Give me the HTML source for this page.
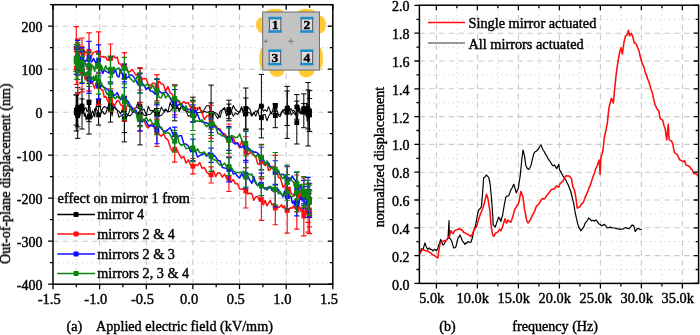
<!DOCTYPE html>
<html><head><meta charset="utf-8"><title>fig</title>
<style>
html,body{margin:0;padding:0;background:#fff;}
body{width:700px;height:335px;overflow:hidden;font-family:"Liberation Serif",serif;}
svg{display:block}
.t text, text{font-family:"Liberation Serif",serif;font-size:14px;fill:#000;stroke:#000;stroke-width:0.42px;}
.gmaj{stroke:#c9c9c9;stroke-width:1.1;stroke-dasharray:5.5 4.3;fill:none}
.gmin{stroke:#d2d2d2;stroke-width:1;stroke-dasharray:1.2 3.6;fill:none}
</style></head><body>
<svg width="700" height="335" viewBox="0 0 700 335">
<defs><filter id="soft" x="0" y="0" width="100%" height="100%" filterUnits="userSpaceOnUse"><feGaussianBlur stdDeviation="0.55"/></filter></defs>
<rect width="700" height="335" fill="#fff"/>
<g filter="url(#soft)">
<rect width="700" height="335" fill="#fff"/>
<g><line x1="99.6" y1="4.7" x2="99.6" y2="284.2" class="gmaj"/><line x1="146.3" y1="4.7" x2="146.3" y2="284.2" class="gmaj"/><line x1="192.9" y1="4.7" x2="192.9" y2="284.2" class="gmaj"/><line x1="239.5" y1="4.7" x2="239.5" y2="284.2" class="gmaj"/><line x1="286.2" y1="4.7" x2="286.2" y2="284.2" class="gmaj"/><line x1="76.3" y1="4.7" x2="76.3" y2="284.2" class="gmin"/><line x1="122.9" y1="4.7" x2="122.9" y2="284.2" class="gmin"/><line x1="169.6" y1="4.7" x2="169.6" y2="284.2" class="gmin"/><line x1="216.2" y1="4.7" x2="216.2" y2="284.2" class="gmin"/><line x1="262.9" y1="4.7" x2="262.9" y2="284.2" class="gmin"/><line x1="309.5" y1="4.7" x2="309.5" y2="284.2" class="gmin"/><line x1="53.0" y1="26.2" x2="332.8" y2="26.2" class="gmaj"/><line x1="53.0" y1="69.2" x2="332.8" y2="69.2" class="gmaj"/><line x1="53.0" y1="112.2" x2="332.8" y2="112.2" class="gmaj"/><line x1="53.0" y1="155.2" x2="332.8" y2="155.2" class="gmaj"/><line x1="53.0" y1="198.2" x2="332.8" y2="198.2" class="gmaj"/><line x1="53.0" y1="241.2" x2="332.8" y2="241.2" class="gmaj"/><line x1="53.0" y1="47.7" x2="332.8" y2="47.7" class="gmin"/><line x1="53.0" y1="90.7" x2="332.8" y2="90.7" class="gmin"/><line x1="53.0" y1="133.7" x2="332.8" y2="133.7" class="gmin"/><line x1="53.0" y1="176.7" x2="332.8" y2="176.7" class="gmin"/><line x1="53.0" y1="219.7" x2="332.8" y2="219.7" class="gmin"/><line x1="53.0" y1="262.7" x2="332.8" y2="262.7" class="gmin"/></g>
<g><path d="M76.3 113.0 L76.3 112.8 L76.4 115.2 L76.5 116.7 L76.7 114.5 L76.9 119.7 L77.1 120.8 L77.4 114.6 L77.7 115.6 L78.1 114.5 L78.6 112.4 L79.0 109.6 L79.5 110.6 L80.1 115.5 L80.7 104.6 L81.3 106.1 L82.0 106.0 L82.7 112.9 L83.5 109.8 L84.3 116.2 L85.2 113.4 L86.1 119.9 L87.0 116.0 L88.0 113.8 L89.0 117.1 L90.1 113.7 L91.2 118.7 L92.3 117.1 L93.5 115.0 L94.7 108.8 L96.0 108.7 L97.3 103.5 L98.6 101.3 L99.9 105.1 L101.3 112.0 L102.8 108.1 L104.2 106.6 L105.7 107.3 L107.3 108.3 L108.9 105.3 L110.5 105.3 L112.1 115.9 L113.8 104.1 L115.5 107.5 L117.2 110.6 L118.9 117.2 L120.7 115.9 L122.5 115.5 L124.4 119.4 L126.2 113.4 L128.1 115.1 L130.0 108.8 L132.0 109.1 L133.9 110.9 L135.9 113.2 L137.9 113.2 L140.0 113.9 L142.0 112.3 L144.1 115.3 L146.2 115.7 L148.3 114.4 L150.4 114.3 L152.5 111.8 L154.7 109.2 L156.9 113.8 L159.1 114.1 L161.3 107.1 L163.5 111.1 L165.7 109.0 L167.9 111.8 L170.2 111.2 L172.4 108.4 L174.7 103.6 L176.9 105.0 L179.2 111.7 L181.5 106.2 L183.8 107.0 L186.0 110.5 L188.3 116.3 L190.6 115.5 L192.9 108.7 L195.2 117.8 L197.5 112.5 L199.8 112.2 L202.0 111.8 L204.3 109.5 L206.6 105.8 L208.9 105.7 L211.1 113.3 L213.4 111.6 L215.6 115.2 L217.9 118.6 L220.1 110.9 L222.3 110.2 L224.5 108.6 L226.7 116.1 L228.9 109.5 L231.1 110.4 L233.3 116.3 L235.4 112.9 L237.5 114.6 L239.6 111.4 L241.7 106.7 L243.8 115.9 L245.8 113.9 L247.9 107.4 L249.9 109.0 L251.9 115.0 L253.8 113.8 L255.8 110.9 L257.7 111.8 L259.6 107.0 L261.4 106.1 L263.3 111.1 L265.1 109.8 L266.9 111.4 L268.6 106.6 L270.3 111.4 L272.0 114.1 L273.7 113.9 L275.3 106.1 L276.9 110.1 L278.5 115.7 L280.1 116.6 L281.6 113.2 L283.0 109.8 L284.5 113.7 L285.9 113.6 L287.2 112.4 L288.5 107.8 L289.8 108.9 L291.1 115.1 L292.3 113.5 L293.5 112.3 L294.6 114.2 L295.7 114.5 L296.8 106.9 L297.8 111.7 L298.8 109.9 L299.7 108.1 L300.6 113.9 L301.5 113.3 L302.3 114.1 L303.1 111.2 L303.8 108.5 L304.5 110.3 L305.1 115.3 L305.7 107.3 L306.3 113.0 L306.8 116.2 L307.2 121.2 L307.7 116.7 L308.1 114.3 L308.4 112.8 L308.7 113.1 L308.9 118.3 L309.1 112.6 L309.3 117.0 L309.4 112.0 L309.5 109.3 L309.5 111.0" fill="none" stroke="#000000" stroke-width="1.05" stroke-linejoin="round"/><path d="M76.3 110.0 L76.3 113.0 L76.4 109.8 L76.5 111.5 L76.7 114.8 L76.9 109.2 L77.1 109.0 L77.4 107.4 L77.7 107.2 L78.1 107.6 L78.6 105.8 L79.0 111.2 L79.5 110.6 L80.1 112.1 L80.7 112.1 L81.3 109.2 L82.0 109.0 L82.7 106.4 L83.5 107.8 L84.3 110.1 L85.2 108.3 L86.1 107.8 L87.0 111.6 L88.0 110.8 L89.0 102.6 L90.1 108.4 L91.2 116.9 L92.3 110.8 L93.5 112.8 L94.7 116.9 L96.0 106.9 L97.3 111.5 L98.6 114.8 L99.9 116.2 L101.3 112.8 L102.8 111.3 L104.2 114.3 L105.7 113.5 L107.3 108.5 L108.9 109.0 L110.5 109.8 L112.1 112.9 L113.8 106.3 L115.5 109.1 L117.2 109.8 L118.9 111.1 L120.7 113.9 L122.5 108.3 L124.4 110.2 L126.2 117.3 L128.1 115.3 L130.0 115.9 L132.0 113.8 L133.9 108.5 L135.9 108.0 L137.9 102.9 L140.0 106.6 L142.0 110.6 L144.1 109.0 L146.2 115.3 L148.3 106.3 L150.4 110.7 L152.5 110.5 L154.7 112.5 L156.9 114.2 L159.1 116.1 L161.3 115.3 L163.5 113.0 L165.7 109.9 L167.9 112.1 L170.2 102.4 L172.4 107.8 L174.7 102.8 L176.9 107.5 L179.2 109.0 L181.5 106.5 L183.8 110.3 L186.0 111.0 L188.3 111.9 L190.6 112.9 L192.9 109.6 L195.2 112.2 L197.5 109.6 L199.8 107.1 L202.0 113.5 L204.3 111.2 L206.6 112.3 L208.9 111.9 L211.1 115.9 L213.4 112.4 L215.6 112.5 L217.9 114.9 L220.1 117.4 L222.3 109.4 L224.5 107.6 L226.7 111.4 L228.9 112.5 L231.1 112.1 L233.3 105.5 L235.4 109.5 L237.5 111.4 L239.6 112.3 L241.7 108.2 L243.8 111.6 L245.8 108.5 L247.9 112.6 L249.9 113.0 L251.9 116.3 L253.8 112.3 L255.8 116.2 L257.7 110.4 L259.6 116.9 L261.4 117.7 L263.3 114.6 L265.1 114.5 L266.9 120.7 L268.6 116.5 L270.3 113.5 L272.0 112.3 L273.7 106.9 L275.3 115.6 L276.9 113.1 L278.5 114.1 L280.1 115.1 L281.6 111.8 L283.0 110.0 L284.5 110.1 L285.9 106.5 L287.2 108.3 L288.5 105.6 L289.8 109.7 L291.1 108.6 L292.3 111.4 L293.5 110.2 L294.6 111.3 L295.7 114.1 L296.8 122.6 L297.8 115.2 L298.8 105.5 L299.7 112.9 L300.6 113.1 L301.5 112.6 L302.3 107.7 L303.1 109.9 L303.8 110.8 L304.5 112.9 L305.1 110.3 L305.7 110.3 L306.3 106.3 L306.8 103.0 L307.2 104.0 L307.7 109.2 L308.1 109.5 L308.4 112.1 L308.7 106.0 L308.9 105.9 L309.1 108.3 L309.3 111.4 L309.4 116.3 L309.5 120.5 L309.5 115.0" fill="none" stroke="#000000" stroke-width="1.05" stroke-linejoin="round"/><path d="M76.3 95.0V131.0M73.6 95.0h5.4M73.6 131.0h5.4M77.7 92.8V138.3M75.0 92.8h5.4M75.0 138.3h5.4M82.0 98.9V113.1M79.3 98.9h5.4M79.3 113.1h5.4M89.0 100.2V134.1M86.3 100.2h5.4M86.3 134.1h5.4M98.6 98.9V106.5M95.9 98.9h5.4M95.9 106.5h5.4M110.5 106.2V110.5M107.8 106.2h5.4M107.8 110.5h5.4M124.4 106.2V132.6M121.7 106.2h5.4M121.7 132.6h5.4M140.0 102.3V125.4M137.3 102.3h5.4M137.3 125.4h5.4M156.9 104.0V123.5M154.2 104.0h5.4M154.2 123.5h5.4M174.7 107.9V108.7M172.0 107.9h5.4M172.0 108.7h5.4M192.9 100.2V117.3M190.2 100.2h5.4M190.2 117.3h5.4M211.1 85.1V141.4M208.4 85.1h5.4M208.4 141.4h5.4M228.9 100.2V118.7M226.2 100.2h5.4M226.2 118.7h5.4M245.8 98.0V129.7M243.1 98.0h5.4M243.1 129.7h5.4M261.4 74.4V137.9M258.7 74.4h5.4M258.7 137.9h5.4M275.3 104.9V111.3M272.6 104.9h5.4M272.6 111.3h5.4M287.2 86.4V138.4M284.5 86.4h5.4M284.5 138.4h5.4M296.8 94.6V119.2M294.1 94.6h5.4M294.1 119.2h5.4M303.8 103.6V113.7M301.1 103.6h5.4M301.1 113.7h5.4M308.1 82.5V146.0M305.4 82.5h5.4M305.4 146.0h5.4M309.5 90.7V131.3M306.8 90.7h5.4M306.8 131.3h5.4M76.3 94.8V125.1M73.6 94.8h5.4M73.6 125.1h5.4M77.7 87.6V126.8M75.0 87.6h5.4M75.0 126.8h5.4M82.0 89.1V129.0M79.3 89.1h5.4M79.3 129.0h5.4M89.0 83.6V121.7M86.3 83.6h5.4M86.3 121.7h5.4M98.6 104.6V125.1M95.9 104.6h5.4M95.9 125.1h5.4M110.5 97.5V122.1M107.8 97.5h5.4M107.8 122.1h5.4M124.4 78.5V141.9M121.7 78.5h5.4M121.7 141.9h5.4M140.0 68.2V144.9M137.3 68.2h5.4M137.3 144.9h5.4M156.9 108.5V119.9M154.2 108.5h5.4M154.2 119.9h5.4M174.7 84.9V120.8M172.0 84.9h5.4M172.0 120.8h5.4M192.9 97.2V122.1M190.2 97.2h5.4M190.2 122.1h5.4M211.1 102.9V129.0M208.4 102.9h5.4M208.4 129.0h5.4M228.9 104.1V120.8M226.2 104.1h5.4M226.2 120.8h5.4M245.8 88.0V129.0M243.1 88.0h5.4M243.1 129.0h5.4M261.4 106.4V129.0M258.7 106.4h5.4M258.7 129.0h5.4M275.3 103.5V127.7M272.6 103.5h5.4M272.6 127.7h5.4M287.2 91.0V125.5M284.5 91.0h5.4M284.5 125.5h5.4M296.8 101.1V144.0M294.1 101.1h5.4M294.1 144.0h5.4M303.8 93.9V127.7M301.1 93.9h5.4M301.1 127.7h5.4M308.1 90.0V129.0M305.4 90.0h5.4M305.4 129.0h5.4M309.5 98.5V131.6M306.8 98.5h5.4M306.8 131.6h5.4" fill="none" stroke="#000000" stroke-width="1.0"/><g fill="#000000"><rect x="73.9" y="110.6" width="4.8" height="4.8"/><rect x="75.3" y="113.2" width="4.8" height="4.8"/><rect x="79.6" y="103.6" width="4.8" height="4.8"/><rect x="86.6" y="114.7" width="4.8" height="4.8"/><rect x="96.2" y="98.9" width="4.8" height="4.8"/><rect x="108.1" y="102.9" width="4.8" height="4.8"/><rect x="122.0" y="117.0" width="4.8" height="4.8"/><rect x="137.6" y="111.5" width="4.8" height="4.8"/><rect x="154.5" y="111.4" width="4.8" height="4.8"/><rect x="172.3" y="101.2" width="4.8" height="4.8"/><rect x="190.5" y="106.3" width="4.8" height="4.8"/><rect x="208.7" y="110.9" width="4.8" height="4.8"/><rect x="226.5" y="107.1" width="4.8" height="4.8"/><rect x="243.4" y="111.5" width="4.8" height="4.8"/><rect x="259.0" y="103.7" width="4.8" height="4.8"/><rect x="272.9" y="103.7" width="4.8" height="4.8"/><rect x="284.8" y="110.0" width="4.8" height="4.8"/><rect x="294.4" y="104.5" width="4.8" height="4.8"/><rect x="301.4" y="106.1" width="4.8" height="4.8"/><rect x="305.7" y="111.9" width="4.8" height="4.8"/><rect x="307.1" y="108.6" width="4.8" height="4.8"/><rect x="73.9" y="107.6" width="4.8" height="4.8"/><rect x="75.3" y="104.8" width="4.8" height="4.8"/><rect x="79.6" y="106.6" width="4.8" height="4.8"/><rect x="86.6" y="100.2" width="4.8" height="4.8"/><rect x="96.2" y="112.4" width="4.8" height="4.8"/><rect x="108.1" y="107.4" width="4.8" height="4.8"/><rect x="122.0" y="107.8" width="4.8" height="4.8"/><rect x="137.6" y="104.2" width="4.8" height="4.8"/><rect x="154.5" y="111.8" width="4.8" height="4.8"/><rect x="172.3" y="100.4" width="4.8" height="4.8"/><rect x="190.5" y="107.2" width="4.8" height="4.8"/><rect x="208.7" y="113.5" width="4.8" height="4.8"/><rect x="226.5" y="110.1" width="4.8" height="4.8"/><rect x="243.4" y="106.1" width="4.8" height="4.8"/><rect x="259.0" y="115.3" width="4.8" height="4.8"/><rect x="272.9" y="113.2" width="4.8" height="4.8"/><rect x="284.8" y="105.9" width="4.8" height="4.8"/><rect x="294.4" y="120.2" width="4.8" height="4.8"/><rect x="301.4" y="108.4" width="4.8" height="4.8"/><rect x="305.7" y="107.1" width="4.8" height="4.8"/><rect x="307.1" y="112.6" width="4.8" height="4.8"/></g><path d="M76.3 48.1 L76.3 51.5 L76.4 47.1 L76.5 50.0 L76.7 47.8 L76.9 48.4 L77.1 46.7 L77.4 48.6 L77.7 54.3 L78.1 52.4 L78.6 47.4 L79.0 49.9 L79.5 44.2 L80.1 46.8 L80.7 50.5 L81.3 46.9 L82.0 52.0 L82.7 55.6 L83.5 46.6 L84.3 56.3 L85.2 51.4 L86.1 52.1 L87.0 52.7 L88.0 58.4 L89.0 51.2 L90.1 58.9 L91.2 57.5 L92.3 53.7 L93.5 52.4 L94.7 51.9 L96.0 51.6 L97.3 52.9 L98.6 52.6 L99.9 55.7 L101.3 56.9 L102.8 56.5 L104.2 57.4 L105.7 56.7 L107.3 60.1 L108.9 59.9 L110.5 58.5 L112.1 58.4 L113.8 55.9 L115.5 58.0 L117.2 57.1 L118.9 63.8 L120.7 63.9 L122.5 68.2 L124.4 65.9 L126.2 65.8 L128.1 72.0 L130.0 71.6 L132.0 69.5 L133.9 71.9 L135.9 75.2 L137.9 73.8 L140.0 78.8 L142.0 79.4 L144.1 78.5 L146.2 78.7 L148.3 84.7 L150.4 85.8 L152.5 83.2 L154.7 83.2 L156.9 87.7 L159.1 81.1 L161.3 83.8 L163.5 84.6 L165.7 91.4 L167.9 86.6 L170.2 92.8 L172.4 94.5 L174.7 100.0 L176.9 99.4 L179.2 102.5 L181.5 104.0 L183.8 101.6 L186.0 103.3 L188.3 102.8 L190.6 107.5 L192.9 109.0 L195.2 108.3 L197.5 108.1 L199.8 108.7 L202.0 112.4 L204.3 119.6 L206.6 116.1 L208.9 116.0 L211.1 121.8 L213.4 125.7 L215.6 125.5 L217.9 128.6 L220.1 129.0 L222.3 133.8 L224.5 133.6 L226.7 136.3 L228.9 140.5 L231.1 136.8 L233.3 137.9 L235.4 143.2 L237.5 142.8 L239.6 147.9 L241.7 140.9 L243.8 147.5 L245.8 152.3 L247.9 154.6 L249.9 152.9 L251.9 152.8 L253.8 155.5 L255.8 157.1 L257.7 163.6 L259.6 164.6 L261.4 161.2 L263.3 163.7 L265.1 165.5 L266.9 163.0 L268.6 170.5 L270.3 169.4 L272.0 166.4 L273.7 166.6 L275.3 172.3 L276.9 170.2 L278.5 177.4 L280.1 177.8 L281.6 182.0 L283.0 187.2 L284.5 185.5 L285.9 186.2 L287.2 189.1 L288.5 189.9 L289.8 187.2 L291.1 193.7 L292.3 194.5 L293.5 194.4 L294.6 195.7 L295.7 189.3 L296.8 193.3 L297.8 196.3 L298.8 197.9 L299.7 190.1 L300.6 199.2 L301.5 199.3 L302.3 196.5 L303.1 195.2 L303.8 194.7 L304.5 199.5 L305.1 199.6 L305.7 195.8 L306.3 196.3 L306.8 201.5 L307.2 196.1 L307.7 197.3 L308.1 202.8 L308.4 202.0 L308.7 201.1 L308.9 205.2 L309.1 207.4 L309.3 203.9 L309.4 209.1 L309.5 207.0 L309.5 210.1" fill="none" stroke="#ff0f0f" stroke-width="1.5" stroke-linejoin="round"/><path d="M76.3 68.0 L76.3 66.8 L76.4 65.5 L76.5 64.4 L76.7 64.1 L76.9 66.9 L77.1 60.8 L77.4 69.6 L77.7 69.4 L78.1 69.4 L78.6 69.2 L79.0 69.3 L79.5 71.5 L80.1 70.6 L80.7 71.3 L81.3 69.7 L82.0 71.6 L82.7 74.9 L83.5 75.4 L84.3 73.7 L85.2 80.0 L86.1 74.1 L87.0 79.5 L88.0 82.2 L89.0 79.6 L90.1 81.1 L91.2 82.5 L92.3 81.8 L93.5 85.8 L94.7 88.4 L96.0 82.8 L97.3 84.6 L98.6 86.4 L99.9 87.2 L101.3 89.7 L102.8 89.9 L104.2 97.2 L105.7 96.3 L107.3 100.3 L108.9 102.8 L110.5 100.2 L112.1 101.0 L113.8 106.4 L115.5 103.8 L117.2 100.6 L118.9 100.9 L120.7 105.0 L122.5 105.2 L124.4 108.6 L126.2 100.0 L128.1 106.2 L130.0 106.3 L132.0 107.8 L133.9 108.8 L135.9 111.7 L137.9 115.7 L140.0 116.9 L142.0 120.3 L144.1 120.3 L146.2 125.9 L148.3 127.9 L150.4 124.8 L152.5 124.2 L154.7 129.1 L156.9 132.6 L159.1 134.3 L161.3 136.2 L163.5 133.5 L165.7 138.2 L167.9 139.9 L170.2 147.3 L172.4 151.4 L174.7 149.3 L176.9 149.4 L179.2 154.5 L181.5 158.0 L183.8 156.7 L186.0 163.1 L188.3 159.9 L190.6 164.8 L192.9 166.2 L195.2 164.8 L197.5 165.5 L199.8 162.5 L202.0 168.3 L204.3 167.5 L206.6 172.2 L208.9 174.3 L211.1 174.9 L213.4 170.3 L215.6 176.5 L217.9 172.7 L220.1 173.2 L222.3 177.2 L224.5 174.1 L226.7 178.7 L228.9 178.4 L231.1 182.1 L233.3 179.6 L235.4 183.7 L237.5 183.6 L239.6 189.1 L241.7 189.3 L243.8 188.8 L245.8 191.0 L247.9 194.0 L249.9 193.3 L251.9 193.8 L253.8 200.2 L255.8 196.8 L257.7 196.8 L259.6 201.3 L261.4 199.6 L263.3 204.9 L265.1 200.4 L266.9 205.8 L268.6 203.1 L270.3 200.4 L272.0 205.0 L273.7 203.7 L275.3 208.1 L276.9 206.0 L278.5 207.7 L280.1 206.4 L281.6 204.7 L283.0 208.0 L284.5 205.7 L285.9 209.8 L287.2 210.4 L288.5 209.7 L289.8 208.3 L291.1 207.7 L292.3 208.2 L293.5 206.2 L294.6 208.0 L295.7 209.1 L296.8 205.8 L297.8 211.1 L298.8 208.8 L299.7 206.6 L300.6 210.9 L301.5 209.9 L302.3 213.2 L303.1 206.3 L303.8 216.0 L304.5 214.2 L305.1 213.5 L305.7 206.2 L306.3 209.5 L306.8 211.5 L307.2 214.3 L307.7 210.2 L308.1 211.9 L308.4 212.4 L308.7 215.0 L308.9 215.7 L309.1 212.2 L309.3 212.0 L309.4 212.5 L309.5 213.2 L309.5 215.4" fill="none" stroke="#ff0f0f" stroke-width="1.5" stroke-linejoin="round"/><path d="M76.3 26.6V69.6M73.6 26.6h5.4M73.6 69.6h5.4M77.7 39.1V69.5M75.0 39.1h5.4M75.0 69.5h5.4M82.0 38.0V66.1M79.3 38.0h5.4M79.3 66.1h5.4M89.0 32.9V69.5M86.3 32.9h5.4M86.3 69.5h5.4M98.6 31.8V73.5M95.9 31.8h5.4M95.9 73.5h5.4M110.5 44.0V72.9M107.8 44.0h5.4M107.8 72.9h5.4M124.4 52.6V79.1M121.7 52.6h5.4M121.7 79.1h5.4M140.0 67.6V90.0M137.3 67.6h5.4M137.3 90.0h5.4M156.9 74.6V100.9M154.2 74.6h5.4M154.2 100.9h5.4M174.7 85.1V114.9M172.0 85.1h5.4M172.0 114.9h5.4M192.9 101.9V116.1M190.2 101.9h5.4M190.2 116.1h5.4M211.1 105.2V138.4M208.4 105.2h5.4M208.4 138.4h5.4M228.9 124.0V157.1M226.2 124.0h5.4M226.2 157.1h5.4M245.8 136.7V167.9M243.1 136.7h5.4M243.1 167.9h5.4M261.4 144.3V178.1M258.7 144.3h5.4M258.7 178.1h5.4M275.3 155.3V189.4M272.6 155.3h5.4M272.6 189.4h5.4M287.2 166.7V211.5M284.5 166.7h5.4M284.5 211.5h5.4M296.8 175.0V211.5M294.1 175.0h5.4M294.1 211.5h5.4M303.8 177.8V211.7M301.1 177.8h5.4M301.1 211.7h5.4M308.1 183.2V222.3M305.4 183.2h5.4M305.4 222.3h5.4M309.5 193.3V226.8M306.8 193.3h5.4M306.8 226.8h5.4M76.3 51.6V84.5M73.6 51.6h5.4M73.6 84.5h5.4M77.7 45.0V93.8M75.0 45.0h5.4M75.0 93.8h5.4M82.0 51.4V91.9M79.3 51.4h5.4M79.3 91.9h5.4M89.0 68.1V91.1M86.3 68.1h5.4M86.3 91.1h5.4M98.6 68.2V104.6M95.9 68.2h5.4M95.9 104.6h5.4M110.5 88.8V111.6M107.8 88.8h5.4M107.8 111.6h5.4M124.4 96.3V120.9M121.7 96.3h5.4M121.7 120.9h5.4M140.0 102.7V131.1M137.3 102.7h5.4M137.3 131.1h5.4M156.9 118.7V146.5M154.2 118.7h5.4M154.2 146.5h5.4M174.7 136.6V162.1M172.0 136.6h5.4M172.0 162.1h5.4M192.9 158.5V173.9M190.2 158.5h5.4M190.2 173.9h5.4M211.1 166.9V183.0M208.4 166.9h5.4M208.4 183.0h5.4M228.9 165.4V191.5M226.2 165.4h5.4M226.2 191.5h5.4M245.8 173.9V208.0M243.1 173.9h5.4M243.1 208.0h5.4M261.4 178.8V220.4M258.7 178.8h5.4M258.7 220.4h5.4M275.3 191.4V224.7M272.6 191.4h5.4M272.6 224.7h5.4M287.2 187.7V233.1M284.5 187.7h5.4M284.5 233.1h5.4M296.8 182.4V229.1M294.1 182.4h5.4M294.1 229.1h5.4M303.8 196.2V235.9M301.1 196.2h5.4M301.1 235.9h5.4M308.1 191.7V232.1M305.4 191.7h5.4M305.4 232.1h5.4M309.5 197.3V233.6M306.8 197.3h5.4M306.8 233.6h5.4" fill="none" stroke="#ff0f0f" stroke-width="1.15"/><g fill="#ff0f0f"><rect x="73.9" y="45.7" width="4.8" height="4.8"/><rect x="75.3" y="51.9" width="4.8" height="4.8"/><rect x="79.6" y="49.6" width="4.8" height="4.8"/><rect x="86.6" y="48.8" width="4.8" height="4.8"/><rect x="96.2" y="50.2" width="4.8" height="4.8"/><rect x="108.1" y="56.1" width="4.8" height="4.8"/><rect x="122.0" y="63.5" width="4.8" height="4.8"/><rect x="137.6" y="76.4" width="4.8" height="4.8"/><rect x="154.5" y="85.3" width="4.8" height="4.8"/><rect x="172.3" y="97.6" width="4.8" height="4.8"/><rect x="190.5" y="106.6" width="4.8" height="4.8"/><rect x="208.7" y="119.4" width="4.8" height="4.8"/><rect x="226.5" y="138.1" width="4.8" height="4.8"/><rect x="243.4" y="149.9" width="4.8" height="4.8"/><rect x="259.0" y="158.8" width="4.8" height="4.8"/><rect x="272.9" y="169.9" width="4.8" height="4.8"/><rect x="284.8" y="186.7" width="4.8" height="4.8"/><rect x="294.4" y="190.9" width="4.8" height="4.8"/><rect x="301.4" y="192.3" width="4.8" height="4.8"/><rect x="305.7" y="200.4" width="4.8" height="4.8"/><rect x="307.1" y="207.7" width="4.8" height="4.8"/><rect x="73.9" y="65.6" width="4.8" height="4.8"/><rect x="75.3" y="67.0" width="4.8" height="4.8"/><rect x="79.6" y="69.2" width="4.8" height="4.8"/><rect x="86.6" y="77.2" width="4.8" height="4.8"/><rect x="96.2" y="84.0" width="4.8" height="4.8"/><rect x="108.1" y="97.8" width="4.8" height="4.8"/><rect x="122.0" y="106.2" width="4.8" height="4.8"/><rect x="137.6" y="114.5" width="4.8" height="4.8"/><rect x="154.5" y="130.2" width="4.8" height="4.8"/><rect x="172.3" y="146.9" width="4.8" height="4.8"/><rect x="190.5" y="163.8" width="4.8" height="4.8"/><rect x="208.7" y="172.5" width="4.8" height="4.8"/><rect x="226.5" y="176.0" width="4.8" height="4.8"/><rect x="243.4" y="188.6" width="4.8" height="4.8"/><rect x="259.0" y="197.2" width="4.8" height="4.8"/><rect x="272.9" y="205.7" width="4.8" height="4.8"/><rect x="284.8" y="208.0" width="4.8" height="4.8"/><rect x="294.4" y="203.4" width="4.8" height="4.8"/><rect x="301.4" y="213.6" width="4.8" height="4.8"/><rect x="305.7" y="209.5" width="4.8" height="4.8"/><rect x="307.1" y="213.0" width="4.8" height="4.8"/></g><path d="M76.3 60.5 L76.3 57.3 L76.4 58.2 L76.5 63.2 L76.7 59.1 L76.9 59.3 L77.1 55.8 L77.4 53.6 L77.7 57.7 L78.1 60.6 L78.6 59.6 L79.0 59.7 L79.5 58.2 L80.1 64.2 L80.7 62.8 L81.3 64.0 L82.0 59.3 L82.7 60.4 L83.5 60.6 L84.3 61.6 L85.2 60.3 L86.1 61.1 L87.0 59.8 L88.0 61.7 L89.0 57.6 L90.1 60.1 L91.2 61.9 L92.3 61.2 L93.5 58.4 L94.7 60.8 L96.0 63.4 L97.3 62.8 L98.6 60.0 L99.9 68.3 L101.3 69.5 L102.8 73.6 L104.2 69.9 L105.7 71.2 L107.3 72.1 L108.9 72.9 L110.5 70.4 L112.1 71.3 L113.8 73.1 L115.5 69.4 L117.2 76.0 L118.9 77.0 L120.7 69.2 L122.5 74.8 L124.4 75.9 L126.2 77.7 L128.1 77.2 L130.0 75.1 L132.0 75.0 L133.9 77.0 L135.9 80.6 L137.9 84.5 L140.0 83.3 L142.0 83.1 L144.1 85.4 L146.2 89.6 L148.3 87.3 L150.4 91.1 L152.5 91.2 L154.7 93.8 L156.9 92.2 L159.1 91.0 L161.3 92.9 L163.5 92.9 L165.7 92.1 L167.9 94.2 L170.2 98.2 L172.4 102.6 L174.7 103.3 L176.9 106.0 L179.2 104.5 L181.5 104.2 L183.8 106.9 L186.0 108.6 L188.3 109.2 L190.6 109.7 L192.9 113.3 L195.2 110.0 L197.5 114.3 L199.8 120.0 L202.0 121.9 L204.3 122.3 L206.6 123.0 L208.9 124.1 L211.1 125.6 L213.4 126.4 L215.6 127.3 L217.9 128.9 L220.1 130.6 L222.3 132.7 L224.5 136.1 L226.7 139.4 L228.9 138.4 L231.1 136.1 L233.3 142.8 L235.4 144.1 L237.5 143.0 L239.6 146.3 L241.7 147.5 L243.8 145.0 L245.8 146.9 L247.9 147.5 L249.9 151.1 L251.9 150.7 L253.8 152.2 L255.8 152.1 L257.7 153.2 L259.6 155.1 L261.4 158.6 L263.3 159.0 L265.1 164.0 L266.9 162.3 L268.6 162.8 L270.3 166.4 L272.0 168.3 L273.7 167.9 L275.3 172.5 L276.9 170.9 L278.5 171.9 L280.1 174.9 L281.6 174.6 L283.0 174.3 L284.5 175.4 L285.9 176.3 L287.2 179.6 L288.5 180.1 L289.8 180.7 L291.1 178.8 L292.3 175.9 L293.5 178.5 L294.6 179.8 L295.7 180.6 L296.8 188.3 L297.8 186.8 L298.8 188.7 L299.7 185.8 L300.6 185.4 L301.5 191.3 L302.3 190.5 L303.1 190.9 L303.8 192.0 L304.5 193.2 L305.1 194.4 L305.7 193.4 L306.3 198.3 L306.8 193.8 L307.2 196.6 L307.7 195.5 L308.1 193.6 L308.4 198.5 L308.7 199.5 L308.9 196.6 L309.1 200.3 L309.3 200.7 L309.4 197.8 L309.5 196.2 L309.5 201.3" fill="none" stroke="#0f0fff" stroke-width="1.5" stroke-linejoin="round"/><path d="M76.3 60.6 L76.3 63.5 L76.4 61.4 L76.5 63.9 L76.7 60.0 L76.9 60.8 L77.1 58.8 L77.4 54.7 L77.7 59.5 L78.1 60.5 L78.6 58.5 L79.0 60.3 L79.5 60.5 L80.1 61.4 L80.7 63.8 L81.3 64.8 L82.0 67.5 L82.7 68.0 L83.5 67.9 L84.3 73.4 L85.2 72.9 L86.1 74.0 L87.0 72.7 L88.0 74.5 L89.0 78.9 L90.1 78.8 L91.2 82.7 L92.3 82.3 L93.5 80.2 L94.7 79.4 L96.0 79.9 L97.3 82.8 L98.6 85.9 L99.9 83.4 L101.3 86.4 L102.8 86.0 L104.2 87.8 L105.7 88.0 L107.3 89.4 L108.9 90.7 L110.5 94.1 L112.1 90.6 L113.8 96.0 L115.5 94.7 L117.2 92.6 L118.9 96.3 L120.7 100.0 L122.5 95.8 L124.4 98.2 L126.2 99.4 L128.1 101.4 L130.0 105.2 L132.0 107.6 L133.9 112.4 L135.9 110.0 L137.9 115.9 L140.0 119.2 L142.0 122.2 L144.1 119.3 L146.2 121.4 L148.3 125.7 L150.4 125.4 L152.5 125.9 L154.7 125.7 L156.9 130.3 L159.1 125.3 L161.3 128.7 L163.5 130.7 L165.7 131.4 L167.9 129.7 L170.2 127.5 L172.4 132.8 L174.7 134.5 L176.9 138.2 L179.2 135.8 L181.5 135.7 L183.8 143.8 L186.0 144.1 L188.3 145.9 L190.6 151.7 L192.9 149.8 L195.2 149.9 L197.5 157.0 L199.8 155.6 L202.0 154.5 L204.3 153.1 L206.6 156.2 L208.9 152.7 L211.1 155.2 L213.4 154.7 L215.6 156.9 L217.9 160.4 L220.1 160.8 L222.3 167.6 L224.5 168.1 L226.7 168.4 L228.9 169.5 L231.1 168.0 L233.3 174.0 L235.4 173.0 L237.5 176.3 L239.6 178.1 L241.7 173.5 L243.8 177.7 L245.8 174.3 L247.9 176.3 L249.9 180.3 L251.9 183.3 L253.8 176.6 L255.8 183.3 L257.7 185.6 L259.6 182.5 L261.4 184.4 L263.3 187.5 L265.1 189.2 L266.9 187.7 L268.6 188.7 L270.3 186.5 L272.0 190.4 L273.7 190.9 L275.3 189.7 L276.9 190.1 L278.5 189.4 L280.1 193.6 L281.6 193.7 L283.0 196.9 L284.5 191.3 L285.9 198.8 L287.2 196.4 L288.5 198.3 L289.8 196.7 L291.1 196.9 L292.3 203.2 L293.5 201.1 L294.6 205.6 L295.7 198.7 L296.8 202.8 L297.8 206.4 L298.8 203.9 L299.7 198.9 L300.6 197.5 L301.5 197.4 L302.3 201.1 L303.1 199.9 L303.8 197.4 L304.5 201.4 L305.1 202.3 L305.7 204.2 L306.3 205.6 L306.8 200.5 L307.2 202.3 L307.7 202.0 L308.1 201.8 L308.4 200.4 L308.7 197.1 L308.9 199.9 L309.1 199.5 L309.3 200.0 L309.4 194.1 L309.5 200.1 L309.5 200.3" fill="none" stroke="#0f0fff" stroke-width="1.5" stroke-linejoin="round"/><path d="M76.3 49.4V71.5M73.6 49.4h5.4M73.6 71.5h5.4M77.7 40.3V75.1M75.0 40.3h5.4M75.0 75.1h5.4M82.0 47.5V71.1M79.3 47.5h5.4M79.3 71.1h5.4M89.0 41.4V73.9M86.3 41.4h5.4M86.3 73.9h5.4M98.6 44.8V75.2M95.9 44.8h5.4M95.9 75.2h5.4M110.5 56.9V83.9M107.8 56.9h5.4M107.8 83.9h5.4M124.4 64.1V87.7M121.7 64.1h5.4M121.7 87.7h5.4M140.0 73.8V92.8M137.3 73.8h5.4M137.3 92.8h5.4M156.9 79.5V105.0M154.2 79.5h5.4M154.2 105.0h5.4M174.7 89.5V117.2M172.0 89.5h5.4M172.0 117.2h5.4M192.9 104.8V121.9M190.2 104.8h5.4M190.2 121.9h5.4M211.1 118.8V132.5M208.4 118.8h5.4M208.4 132.5h5.4M228.9 126.6V150.3M226.2 126.6h5.4M226.2 150.3h5.4M245.8 131.5V162.2M243.1 131.5h5.4M243.1 162.2h5.4M261.4 147.2V170.0M258.7 147.2h5.4M258.7 170.0h5.4M275.3 160.7V184.3M272.6 160.7h5.4M272.6 184.3h5.4M287.2 166.2V192.9M284.5 166.2h5.4M284.5 192.9h5.4M296.8 172.5V204.2M294.1 172.5h5.4M294.1 204.2h5.4M303.8 180.3V203.8M301.1 180.3h5.4M301.1 203.8h5.4M308.1 177.3V210.0M305.4 177.3h5.4M305.4 210.0h5.4M309.5 189.9V212.7M306.8 189.9h5.4M306.8 212.7h5.4M76.3 46.7V74.4M73.6 46.7h5.4M73.6 74.4h5.4M77.7 48.5V70.5M75.0 48.5h5.4M75.0 70.5h5.4M82.0 51.4V83.5M79.3 51.4h5.4M79.3 83.5h5.4M89.0 64.4V93.3M86.3 64.4h5.4M86.3 93.3h5.4M98.6 72.2V99.6M95.9 72.2h5.4M95.9 99.6h5.4M110.5 81.7V106.5M107.8 81.7h5.4M107.8 106.5h5.4M124.4 81.8V114.5M121.7 81.8h5.4M121.7 114.5h5.4M140.0 107.5V130.9M137.3 107.5h5.4M137.3 130.9h5.4M156.9 116.8V143.7M154.2 116.8h5.4M154.2 143.7h5.4M174.7 127.1V142.0M172.0 127.1h5.4M172.0 142.0h5.4M192.9 139.1V160.5M190.2 139.1h5.4M190.2 160.5h5.4M211.1 148.1V162.4M208.4 148.1h5.4M208.4 162.4h5.4M228.9 157.1V181.9M226.2 157.1h5.4M226.2 181.9h5.4M245.8 160.3V188.2M243.1 160.3h5.4M243.1 188.2h5.4M261.4 173.1V195.6M258.7 173.1h5.4M258.7 195.6h5.4M275.3 172.3V207.0M272.6 172.3h5.4M272.6 207.0h5.4M287.2 183.5V209.2M284.5 183.5h5.4M284.5 209.2h5.4M296.8 189.7V215.9M294.1 189.7h5.4M294.1 215.9h5.4M303.8 186.6V208.2M301.1 186.6h5.4M301.1 208.2h5.4M308.1 186.2V217.4M305.4 186.2h5.4M305.4 217.4h5.4M309.5 183.2V217.4M306.8 183.2h5.4M306.8 217.4h5.4" fill="none" stroke="#0f0fff" stroke-width="1.15"/><g fill="#0f0fff"><rect x="73.9" y="58.1" width="4.8" height="4.8"/><rect x="75.3" y="55.3" width="4.8" height="4.8"/><rect x="79.6" y="56.9" width="4.8" height="4.8"/><rect x="86.6" y="55.2" width="4.8" height="4.8"/><rect x="96.2" y="57.6" width="4.8" height="4.8"/><rect x="108.1" y="68.0" width="4.8" height="4.8"/><rect x="122.0" y="73.5" width="4.8" height="4.8"/><rect x="137.6" y="80.9" width="4.8" height="4.8"/><rect x="154.5" y="89.8" width="4.8" height="4.8"/><rect x="172.3" y="100.9" width="4.8" height="4.8"/><rect x="190.5" y="110.9" width="4.8" height="4.8"/><rect x="208.7" y="123.2" width="4.8" height="4.8"/><rect x="226.5" y="136.0" width="4.8" height="4.8"/><rect x="243.4" y="144.5" width="4.8" height="4.8"/><rect x="259.0" y="156.2" width="4.8" height="4.8"/><rect x="272.9" y="170.1" width="4.8" height="4.8"/><rect x="284.8" y="177.2" width="4.8" height="4.8"/><rect x="294.4" y="185.9" width="4.8" height="4.8"/><rect x="301.4" y="189.6" width="4.8" height="4.8"/><rect x="305.7" y="191.2" width="4.8" height="4.8"/><rect x="307.1" y="198.9" width="4.8" height="4.8"/><rect x="73.9" y="58.2" width="4.8" height="4.8"/><rect x="75.3" y="57.1" width="4.8" height="4.8"/><rect x="79.6" y="65.1" width="4.8" height="4.8"/><rect x="86.6" y="76.5" width="4.8" height="4.8"/><rect x="96.2" y="83.5" width="4.8" height="4.8"/><rect x="108.1" y="91.7" width="4.8" height="4.8"/><rect x="122.0" y="95.8" width="4.8" height="4.8"/><rect x="137.6" y="116.8" width="4.8" height="4.8"/><rect x="154.5" y="127.9" width="4.8" height="4.8"/><rect x="172.3" y="132.1" width="4.8" height="4.8"/><rect x="190.5" y="147.4" width="4.8" height="4.8"/><rect x="208.7" y="152.8" width="4.8" height="4.8"/><rect x="226.5" y="167.1" width="4.8" height="4.8"/><rect x="243.4" y="171.9" width="4.8" height="4.8"/><rect x="259.0" y="182.0" width="4.8" height="4.8"/><rect x="272.9" y="187.3" width="4.8" height="4.8"/><rect x="284.8" y="194.0" width="4.8" height="4.8"/><rect x="294.4" y="200.4" width="4.8" height="4.8"/><rect x="301.4" y="195.0" width="4.8" height="4.8"/><rect x="305.7" y="199.4" width="4.8" height="4.8"/><rect x="307.1" y="197.9" width="4.8" height="4.8"/></g><path d="M76.3 62.0 L76.3 63.1 L76.4 59.5 L76.5 60.6 L76.7 57.8 L76.9 61.8 L77.1 57.1 L77.4 61.0 L77.7 57.7 L78.1 60.5 L78.6 62.8 L79.0 60.8 L79.5 62.7 L80.1 62.3 L80.7 60.5 L81.3 60.0 L82.0 62.3 L82.7 64.0 L83.5 65.2 L84.3 63.7 L85.2 62.6 L86.1 66.3 L87.0 67.4 L88.0 67.8 L89.0 65.6 L90.1 63.6 L91.2 70.6 L92.3 65.2 L93.5 67.0 L94.7 71.4 L96.0 63.6 L97.3 65.9 L98.6 65.5 L99.9 71.0 L101.3 65.2 L102.8 69.2 L104.2 70.1 L105.7 65.7 L107.3 69.2 L108.9 70.1 L110.5 69.5 L112.1 76.2 L113.8 67.0 L115.5 70.0 L117.2 69.0 L118.9 67.9 L120.7 72.8 L122.5 68.1 L124.4 68.3 L126.2 69.7 L128.1 71.4 L130.0 78.3 L132.0 80.0 L133.9 82.0 L135.9 79.3 L137.9 75.2 L140.0 82.9 L142.0 85.4 L144.1 85.8 L146.2 84.9 L148.3 84.3 L150.4 89.4 L152.5 85.1 L154.7 89.7 L156.9 90.5 L159.1 97.4 L161.3 97.8 L163.5 92.4 L165.7 97.9 L167.9 95.1 L170.2 97.9 L172.4 98.9 L174.7 98.4 L176.9 99.9 L179.2 101.0 L181.5 107.1 L183.8 109.9 L186.0 105.9 L188.3 111.2 L190.6 113.2 L192.9 115.6 L195.2 121.2 L197.5 120.9 L199.8 121.5 L202.0 119.9 L204.3 123.7 L206.6 126.8 L208.9 124.6 L211.1 124.1 L213.4 121.6 L215.6 126.6 L217.9 133.5 L220.1 134.1 L222.3 136.1 L224.5 136.1 L226.7 138.8 L228.9 140.6 L231.1 135.8 L233.3 136.1 L235.4 137.6 L237.5 137.3 L239.6 134.1 L241.7 140.0 L243.8 143.1 L245.8 143.4 L247.9 151.1 L249.9 148.5 L251.9 152.8 L253.8 154.5 L255.8 156.8 L257.7 154.5 L259.6 159.9 L261.4 157.3 L263.3 160.0 L265.1 164.8 L266.9 160.9 L268.6 165.5 L270.3 167.7 L272.0 167.9 L273.7 169.6 L275.3 169.1 L276.9 172.5 L278.5 170.2 L280.1 174.7 L281.6 177.7 L283.0 178.5 L284.5 176.0 L285.9 182.1 L287.2 182.6 L288.5 181.0 L289.8 177.5 L291.1 179.5 L292.3 181.4 L293.5 181.9 L294.6 187.3 L295.7 182.3 L296.8 185.6 L297.8 180.9 L298.8 184.2 L299.7 185.9 L300.6 184.7 L301.5 185.2 L302.3 187.0 L303.1 189.0 L303.8 192.0 L304.5 194.0 L305.1 191.7 L305.7 189.2 L306.3 191.8 L306.8 195.8 L307.2 194.7 L307.7 198.8 L308.1 197.0 L308.4 200.2 L308.7 200.2 L308.9 197.3 L309.1 199.9 L309.3 199.5 L309.4 204.1 L309.5 203.8 L309.5 202.4" fill="none" stroke="#088408" stroke-width="1.5" stroke-linejoin="round"/><path d="M76.3 58.0 L76.3 57.0 L76.4 63.8 L76.5 59.3 L76.7 60.2 L76.9 64.4 L77.1 67.4 L77.4 65.1 L77.7 66.0 L78.1 64.6 L78.6 68.2 L79.0 59.1 L79.5 60.2 L80.1 66.7 L80.7 71.2 L81.3 69.2 L82.0 69.3 L82.7 66.8 L83.5 69.0 L84.3 72.1 L85.2 77.0 L86.1 73.3 L87.0 72.9 L88.0 75.0 L89.0 73.1 L90.1 75.4 L91.2 77.1 L92.3 79.5 L93.5 75.9 L94.7 80.3 L96.0 75.1 L97.3 82.8 L98.6 80.9 L99.9 84.7 L101.3 82.4 L102.8 86.7 L104.2 87.3 L105.7 91.4 L107.3 94.7 L108.9 92.3 L110.5 94.1 L112.1 97.2 L113.8 97.3 L115.5 98.6 L117.2 96.1 L118.9 98.2 L120.7 98.4 L122.5 94.2 L124.4 101.7 L126.2 102.4 L128.1 104.7 L130.0 107.9 L132.0 111.3 L133.9 110.0 L135.9 112.1 L137.9 121.6 L140.0 117.0 L142.0 120.6 L144.1 120.9 L146.2 117.4 L148.3 121.2 L150.4 119.3 L152.5 123.5 L154.7 124.6 L156.9 122.6 L159.1 126.9 L161.3 127.2 L163.5 132.0 L165.7 133.4 L167.9 132.4 L170.2 134.2 L172.4 139.4 L174.7 141.3 L176.9 134.2 L179.2 143.3 L181.5 145.4 L183.8 144.0 L186.0 148.8 L188.3 148.1 L190.6 146.7 L192.9 147.9 L195.2 152.2 L197.5 148.9 L199.8 152.8 L202.0 152.8 L204.3 151.9 L206.6 155.3 L208.9 154.5 L211.1 156.4 L213.4 159.8 L215.6 159.9 L217.9 162.7 L220.1 165.2 L222.3 165.4 L224.5 163.0 L226.7 166.9 L228.9 166.6 L231.1 167.1 L233.3 170.8 L235.4 172.2 L237.5 172.4 L239.6 172.4 L241.7 172.3 L243.8 171.2 L245.8 177.3 L247.9 173.4 L249.9 174.8 L251.9 174.0 L253.8 181.5 L255.8 182.0 L257.7 185.7 L259.6 184.1 L261.4 186.1 L263.3 187.4 L265.1 187.8 L266.9 190.1 L268.6 186.5 L270.3 186.9 L272.0 187.3 L273.7 191.6 L275.3 189.6 L276.9 189.3 L278.5 193.9 L280.1 191.6 L281.6 194.5 L283.0 195.3 L284.5 194.1 L285.9 194.8 L287.2 191.9 L288.5 190.7 L289.8 194.8 L291.1 196.8 L292.3 196.7 L293.5 196.0 L294.6 192.9 L295.7 194.9 L296.8 191.9 L297.8 194.1 L298.8 192.0 L299.7 190.4 L300.6 190.6 L301.5 193.3 L302.3 196.9 L303.1 197.4 L303.8 194.8 L304.5 196.6 L305.1 197.7 L305.7 192.7 L306.3 194.1 L306.8 191.5 L307.2 188.5 L307.7 192.7 L308.1 192.1 L308.4 197.6 L308.7 194.4 L308.9 199.3 L309.1 200.2 L309.3 201.6 L309.4 194.5 L309.5 201.2 L309.5 200.3" fill="none" stroke="#088408" stroke-width="1.5" stroke-linejoin="round"/><path d="M76.3 44.7V79.2M73.6 44.7h5.4M73.6 79.2h5.4M77.7 42.8V72.6M75.0 42.8h5.4M75.0 72.6h5.4M82.0 49.9V74.8M79.3 49.9h5.4M79.3 74.8h5.4M89.0 52.1V79.2M86.3 52.1h5.4M86.3 79.2h5.4M98.6 53.8V77.1M95.9 53.8h5.4M95.9 77.1h5.4M110.5 56.1V82.9M107.8 56.1h5.4M107.8 82.9h5.4M124.4 57.4V79.2M121.7 57.4h5.4M121.7 79.2h5.4M140.0 72.9V92.9M137.3 72.9h5.4M137.3 92.9h5.4M156.9 78.5V102.6M154.2 78.5h5.4M154.2 102.6h5.4M174.7 85.9V110.9M172.0 85.9h5.4M172.0 110.9h5.4M192.9 100.8V130.5M190.2 100.8h5.4M190.2 130.5h5.4M211.1 112.6V135.5M208.4 112.6h5.4M208.4 135.5h5.4M228.9 127.8V153.4M226.2 127.8h5.4M226.2 153.4h5.4M245.8 130.8V156.0M243.1 130.8h5.4M243.1 156.0h5.4M261.4 144.9V169.6M258.7 144.9h5.4M258.7 169.6h5.4M275.3 152.5V185.7M272.6 152.5h5.4M272.6 185.7h5.4M287.2 165.0V200.2M284.5 165.0h5.4M284.5 200.2h5.4M296.8 172.0V199.3M294.1 172.0h5.4M294.1 199.3h5.4M303.8 176.6V207.4M301.1 176.6h5.4M301.1 207.4h5.4M308.1 184.3V209.6M305.4 184.3h5.4M305.4 209.6h5.4M309.5 190.9V213.9M306.8 190.9h5.4M306.8 213.9h5.4M76.3 44.5V71.6M73.6 44.5h5.4M73.6 71.6h5.4M77.7 52.6V79.3M75.0 52.6h5.4M75.0 79.3h5.4M82.0 56.2V82.3M79.3 56.2h5.4M79.3 82.3h5.4M89.0 59.7V86.5M86.3 59.7h5.4M86.3 86.5h5.4M98.6 67.8V94.1M95.9 67.8h5.4M95.9 94.1h5.4M110.5 77.2V111.0M107.8 77.2h5.4M107.8 111.0h5.4M124.4 83.8V119.6M121.7 83.8h5.4M121.7 119.6h5.4M140.0 107.4V126.6M137.3 107.4h5.4M137.3 126.6h5.4M156.9 110.6V134.7M154.2 110.6h5.4M154.2 134.7h5.4M174.7 130.4V152.2M172.0 130.4h5.4M172.0 152.2h5.4M192.9 134.2V161.6M190.2 134.2h5.4M190.2 161.6h5.4M211.1 141.5V171.4M208.4 141.5h5.4M208.4 171.4h5.4M228.9 157.9V175.4M226.2 157.9h5.4M226.2 175.4h5.4M245.8 167.5V187.1M243.1 167.5h5.4M243.1 187.1h5.4M261.4 176.6V195.6M258.7 176.6h5.4M258.7 195.6h5.4M275.3 174.5V204.8M272.6 174.5h5.4M272.6 204.8h5.4M287.2 174.6V209.2M284.5 174.6h5.4M284.5 209.2h5.4M296.8 171.8V212.0M294.1 171.8h5.4M294.1 212.0h5.4M303.8 184.2V205.3M301.1 184.2h5.4M301.1 205.3h5.4M308.1 180.2V204.0M305.4 180.2h5.4M305.4 204.0h5.4M309.5 185.0V215.5M306.8 185.0h5.4M306.8 215.5h5.4" fill="none" stroke="#088408" stroke-width="1.15"/><g fill="#088408"><rect x="73.9" y="59.6" width="4.8" height="4.8"/><rect x="75.3" y="55.3" width="4.8" height="4.8"/><rect x="79.6" y="59.9" width="4.8" height="4.8"/><rect x="86.6" y="63.2" width="4.8" height="4.8"/><rect x="96.2" y="63.1" width="4.8" height="4.8"/><rect x="108.1" y="67.1" width="4.8" height="4.8"/><rect x="122.0" y="65.9" width="4.8" height="4.8"/><rect x="137.6" y="80.5" width="4.8" height="4.8"/><rect x="154.5" y="88.1" width="4.8" height="4.8"/><rect x="172.3" y="96.0" width="4.8" height="4.8"/><rect x="190.5" y="113.2" width="4.8" height="4.8"/><rect x="208.7" y="121.7" width="4.8" height="4.8"/><rect x="226.5" y="138.2" width="4.8" height="4.8"/><rect x="243.4" y="141.0" width="4.8" height="4.8"/><rect x="259.0" y="154.9" width="4.8" height="4.8"/><rect x="272.9" y="166.7" width="4.8" height="4.8"/><rect x="284.8" y="180.2" width="4.8" height="4.8"/><rect x="294.4" y="183.2" width="4.8" height="4.8"/><rect x="301.4" y="189.6" width="4.8" height="4.8"/><rect x="305.7" y="194.6" width="4.8" height="4.8"/><rect x="307.1" y="200.0" width="4.8" height="4.8"/><rect x="73.9" y="55.6" width="4.8" height="4.8"/><rect x="75.3" y="63.6" width="4.8" height="4.8"/><rect x="79.6" y="66.9" width="4.8" height="4.8"/><rect x="86.6" y="70.7" width="4.8" height="4.8"/><rect x="96.2" y="78.5" width="4.8" height="4.8"/><rect x="108.1" y="91.7" width="4.8" height="4.8"/><rect x="122.0" y="99.3" width="4.8" height="4.8"/><rect x="137.6" y="114.6" width="4.8" height="4.8"/><rect x="154.5" y="120.2" width="4.8" height="4.8"/><rect x="172.3" y="138.9" width="4.8" height="4.8"/><rect x="190.5" y="145.5" width="4.8" height="4.8"/><rect x="208.7" y="154.0" width="4.8" height="4.8"/><rect x="226.5" y="164.2" width="4.8" height="4.8"/><rect x="243.4" y="174.9" width="4.8" height="4.8"/><rect x="259.0" y="183.7" width="4.8" height="4.8"/><rect x="272.9" y="187.2" width="4.8" height="4.8"/><rect x="284.8" y="189.5" width="4.8" height="4.8"/><rect x="294.4" y="189.5" width="4.8" height="4.8"/><rect x="301.4" y="192.4" width="4.8" height="4.8"/><rect x="305.7" y="189.7" width="4.8" height="4.8"/><rect x="307.1" y="197.9" width="4.8" height="4.8"/></g></g>
<rect x="53.0" y="4.7" width="279.8" height="279.5" fill="none" stroke="#000" stroke-width="1.5"/><path d="M53.0 26.2h-5M332.8 26.2h-5M53.0 69.2h-5M332.8 69.2h-5M53.0 112.2h-5M332.8 112.2h-5M53.0 155.2h-5M332.8 155.2h-5M53.0 198.2h-5M332.8 198.2h-5M53.0 241.2h-5M332.8 241.2h-5M53.0 284.2h-5M332.8 284.2h-5M53.0 4.7h-3M332.8 4.7h-3M53.0 47.7h-3M332.8 47.7h-3M53.0 90.7h-3M332.8 90.7h-3M53.0 133.7h-3M332.8 133.7h-3M53.0 176.7h-3M332.8 176.7h-3M53.0 219.7h-3M332.8 219.7h-3M53.0 262.7h-3M332.8 262.7h-3M53.0 284.2v5M53.0 4.7v5M99.6 284.2v5M99.6 4.7v5M146.3 284.2v5M146.3 4.7v5M192.9 284.2v5M192.9 4.7v5M239.5 284.2v5M239.5 4.7v5M286.2 284.2v5M286.2 4.7v5M332.8 284.2v5M332.8 4.7v5M76.3 284.2v3M76.3 4.7v3M122.9 284.2v3M122.9 4.7v3M169.6 284.2v3M169.6 4.7v3M216.2 284.2v3M216.2 4.7v3M262.9 284.2v3M262.9 4.7v3M309.5 284.2v3M309.5 4.7v3" stroke="#000" stroke-width="1.3" fill="none"/>
<g class="t"><text x="42.5" y="32.1" text-anchor="end">200</text><text x="42.5" y="75.1" text-anchor="end">100</text><text x="42.5" y="118.1" text-anchor="end">0</text><text x="42.5" y="161.1" text-anchor="end">-100</text><text x="42.5" y="204.1" text-anchor="end">-200</text><text x="42.5" y="247.1" text-anchor="end">-300</text><text x="42.5" y="290.1" text-anchor="end">-400</text><text x="49.2" y="304" text-anchor="middle" style="font-size:14.5px">-1.5</text><text x="95.8" y="304" text-anchor="middle" style="font-size:14.5px">-1.0</text><text x="142.5" y="304" text-anchor="middle" style="font-size:14.5px">-0.5</text><text x="189.1" y="304" text-anchor="middle" style="font-size:14.5px">0.0</text><text x="235.7" y="304" text-anchor="middle" style="font-size:14.5px">0.5</text><text x="282.4" y="304" text-anchor="middle" style="font-size:14.5px">1.0</text><text x="329.0" y="304" text-anchor="middle" style="font-size:14.5px">1.5</text><text transform="translate(10,173.7) rotate(-90)" text-anchor="middle">Out-of-plane displacement (nm)</text><text x="66.5" y="331.2" style="font-size:14.2px">(a)</text><text x="96" y="331.2" style="font-size:14.2px">Applied electric field (kV/mm)</text><text x="57.6" y="203" style="font-size:14.3px">effect on mirror 1 from</text><line x1="57.3" y1="214.5" x2="95" y2="214.5" stroke="#000000" stroke-width="1.5"/><rect x="73.6" y="212.0" width="5" height="5" rx="0.8" fill="#000000"/><text x="97.3" y="219.0" style="font-size:14.2px">mirror 4</text><line x1="57.3" y1="234" x2="95" y2="234" stroke="#ff0f0f" stroke-width="1.5"/><rect x="73.6" y="231.5" width="5" height="5" rx="0.8" fill="#ff0f0f"/><text x="97.3" y="238.5" style="font-size:14.2px">mirrors 2 &amp; 4</text><line x1="57.3" y1="254" x2="95" y2="254" stroke="#0f0fff" stroke-width="1.5"/><rect x="73.6" y="251.5" width="5" height="5" rx="0.8" fill="#0f0fff"/><text x="97.3" y="258.5" style="font-size:14.2px">mirrors 2 &amp; 3</text><line x1="57.3" y1="273.5" x2="95" y2="273.5" stroke="#088408" stroke-width="1.5"/><rect x="73.6" y="271.0" width="5" height="5" rx="0.8" fill="#088408"/><text x="97.3" y="278.0" style="font-size:14.2px">mirrors 2, 3 &amp; 4</text></g>
<g class="t"><g fill="#ffca30"><ellipse cx="262.5" cy="25" rx="6.5" ry="8"/><ellipse cx="262.8" cy="58.5" rx="3.6" ry="11"/><ellipse cx="319.5" cy="24.6" rx="6.5" ry="9"/><ellipse cx="319.5" cy="58.5" rx="3.5" ry="11"/><ellipse cx="275.2" cy="12" rx="8.9" ry="3.3"/><ellipse cx="306.6" cy="12" rx="8.6" ry="3.3"/><ellipse cx="277" cy="70" rx="7.5" ry="7"/><ellipse cx="306.5" cy="70" rx="8" ry="7.4"/></g><rect x="262.7" y="12" width="56.8" height="58.1" fill="#c3c3c3" stroke="#6e6e6e" stroke-width="1"/><rect x="269.4" y="18.3" width="11.4" height="13" fill="#dcdcdc" stroke="#555" stroke-width="1"/><rect x="268.4" y="16.8" width="13.4" height="2.6" fill="#1e90c8"/><rect x="268.4" y="30.2" width="13.4" height="2.6" fill="#1e90c8"/><text x="275.1" y="29.4" text-anchor="middle" style="font-size:13.5px;font-weight:bold" fill="#000">1</text><rect x="301.2" y="18.3" width="11.4" height="13" fill="#dcdcdc" stroke="#555" stroke-width="1"/><rect x="300.2" y="16.8" width="13.4" height="2.6" fill="#1e90c8"/><rect x="300.2" y="30.2" width="13.4" height="2.6" fill="#1e90c8"/><text x="306.9" y="29.4" text-anchor="middle" style="font-size:13.5px;font-weight:bold" fill="#000">2</text><rect x="269.2" y="50.9" width="11.4" height="13" fill="#dcdcdc" stroke="#555" stroke-width="1"/><rect x="268.2" y="49.4" width="13.4" height="2.6" fill="#1e90c8"/><rect x="268.2" y="62.8" width="13.4" height="2.6" fill="#1e90c8"/><text x="274.9" y="62.0" text-anchor="middle" style="font-size:13.5px;font-weight:bold" fill="#000">3</text><rect x="301.2" y="50.9" width="11.4" height="13" fill="#dcdcdc" stroke="#555" stroke-width="1"/><rect x="300.2" y="49.4" width="13.4" height="2.6" fill="#1e90c8"/><rect x="300.2" y="62.8" width="13.4" height="2.6" fill="#1e90c8"/><text x="306.9" y="62.0" text-anchor="middle" style="font-size:13.5px;font-weight:bold" fill="#000">4</text><path d="M288 41.3h6M291 38.3v6M263.8 41.3h4M265.8 39.3v4" stroke="#666" stroke-width="0.7" fill="none"/></g>
<g><line x1="436.4" y1="5.2" x2="436.4" y2="283.4" class="gmaj"/><line x1="477.4" y1="5.2" x2="477.4" y2="283.4" class="gmaj"/><line x1="518.4" y1="5.2" x2="518.4" y2="283.4" class="gmaj"/><line x1="559.4" y1="5.2" x2="559.4" y2="283.4" class="gmaj"/><line x1="600.4" y1="5.2" x2="600.4" y2="283.4" class="gmaj"/><line x1="641.4" y1="5.2" x2="641.4" y2="283.4" class="gmaj"/><line x1="682.4" y1="5.2" x2="682.4" y2="283.4" class="gmaj"/><line x1="456.9" y1="5.2" x2="456.9" y2="283.4" class="gmin"/><line x1="497.9" y1="5.2" x2="497.9" y2="283.4" class="gmin"/><line x1="538.9" y1="5.2" x2="538.9" y2="283.4" class="gmin"/><line x1="579.9" y1="5.2" x2="579.9" y2="283.4" class="gmin"/><line x1="620.9" y1="5.2" x2="620.9" y2="283.4" class="gmin"/><line x1="661.9" y1="5.2" x2="661.9" y2="283.4" class="gmin"/><line x1="419.4" y1="255.6" x2="698.6" y2="255.6" class="gmaj"/><line x1="419.4" y1="227.8" x2="698.6" y2="227.8" class="gmaj"/><line x1="419.4" y1="200.0" x2="698.6" y2="200.0" class="gmaj"/><line x1="419.4" y1="172.2" x2="698.6" y2="172.2" class="gmaj"/><line x1="419.4" y1="144.4" x2="698.6" y2="144.4" class="gmaj"/><line x1="419.4" y1="116.6" x2="698.6" y2="116.6" class="gmaj"/><line x1="419.4" y1="88.8" x2="698.6" y2="88.8" class="gmaj"/><line x1="419.4" y1="61.0" x2="698.6" y2="61.0" class="gmaj"/><line x1="419.4" y1="33.2" x2="698.6" y2="33.2" class="gmaj"/><line x1="419.4" y1="269.5" x2="698.6" y2="269.5" class="gmin"/><line x1="419.4" y1="241.7" x2="698.6" y2="241.7" class="gmin"/><line x1="419.4" y1="213.9" x2="698.6" y2="213.9" class="gmin"/><line x1="419.4" y1="186.1" x2="698.6" y2="186.1" class="gmin"/><line x1="419.4" y1="158.3" x2="698.6" y2="158.3" class="gmin"/><line x1="419.4" y1="130.5" x2="698.6" y2="130.5" class="gmin"/><line x1="419.4" y1="102.7" x2="698.6" y2="102.7" class="gmin"/><line x1="419.4" y1="74.9" x2="698.6" y2="74.9" class="gmin"/><line x1="419.4" y1="47.1" x2="698.6" y2="47.1" class="gmin"/><line x1="419.4" y1="19.3" x2="698.6" y2="19.3" class="gmin"/></g>
<path d="M420.0 253.7 L421.4 248.7 L422.1 249.4 L422.9 250.0 L423.9 246.4 L425.0 243.0 L425.8 245.4 L426.5 247.2 L427.9 249.4 L429.3 248.0 L430.4 249.4 L431.5 249.4 L432.9 250.8 L434.3 249.4 L435.4 249.8 L436.5 250.8 L437.9 248.0 L438.6 245.3 L439.4 243.7 L440.8 239.4 L441.9 242.8 L442.9 245.0 L443.9 244.7 L445.0 242.2 L446.0 240.7 L447.0 239.4 L448.0 238.6 L449.0 220.7 L449.4 238.0 L450.4 238.8 L451.5 240.8 L452.6 244.4 L453.7 248.0 L454.8 247.6 L455.8 247.2 L456.9 242.5 L458.0 238.0 L459.0 236.9 L460.0 235.0 L461.1 237.5 L462.3 240.8 L463.6 242.3 L465.0 244.4 L466.0 242.9 L467.0 243.1 L468.0 241.5 L469.4 242.3 L470.9 242.2 L472.3 238.0 L473.7 230.8 L474.8 227.8 L475.9 223.6 L477.2 216.4 L478.6 210.0 L480.1 208.8 L481.5 206.5 L482.9 188.6 L483.6 178.0 L485.1 176.6 L486.5 175.0 L487.6 176.4 L488.6 177.2 L490.0 183.0 L490.8 191.0 L491.5 198.6 L492.9 217.2 L493.1 225.0 L494.1 225.9 L495.2 227.2 L496.3 223.9 L497.4 220.7 L498.7 217.2 L499.8 218.6 L500.8 221.5 L501.6 218.4 L502.5 215.8 L503.4 210.0 L504.4 204.4 L505.8 197.2 L507.2 196.0 L508.7 195.8 L509.8 192.9 L510.8 190.0 L512.2 187.7 L513.7 184.3 L515.0 188.4 L516.3 192.9 L517.3 190.3 L518.3 188.6 L519.2 181.8 L520.2 175.8 L521.6 161.5 L523.0 150.0 L523.8 153.0 L524.5 155.8 L525.9 165.8 L527.3 168.4 L528.8 169.4 L529.8 167.7 L530.9 165.8 L532.3 159.7 L533.8 153.6 L535.0 151.8 L536.2 151.3 L537.4 150.0 L538.6 148.6 L539.7 146.5 L540.9 145.0 L542.0 147.5 L543.1 150.0 L544.3 151.6 L545.5 154.2 L546.7 155.8 L548.1 158.8 L549.6 160.8 L551.0 163.0 L552.0 164.6 L553.1 165.8 L554.5 165.0 L555.6 166.9 L556.7 168.7 L557.8 166.3 L558.8 164.5 L559.6 170.0 L560.7 171.6 L561.8 173.7 L562.9 175.8 L564.3 177.9 L565.8 180.0 L567.2 182.9 L568.6 185.8 L569.7 189.1 L570.8 191.5 L572.2 197.5 L573.6 202.9 L575.0 211.5 L576.5 218.7 L577.6 223.3 L578.7 227.2 L579.8 228.9 L580.8 230.8 L582.2 229.0 L583.7 227.2 L584.8 224.0 L585.8 222.2 L587.2 220.8 L588.7 218.0 L590.1 219.1 L591.5 220.8 L592.9 220.3 L594.4 221.1 L595.8 220.0 L597.2 221.4 L598.7 223.7 L600.2 224.5 L601.6 225.8 L603.0 225.1 L604.4 224.4 L605.8 225.9 L607.3 228.0 L608.8 227.6 L610.2 227.2 L611.6 227.6 L613.1 228.0 L614.5 228.0 L615.9 228.3 L617.4 229.0 L618.8 228.9 L620.2 229.4 L621.6 229.2 L623.1 229.0 L624.5 228.0 L625.9 227.5 L627.4 228.4 L628.8 228.7 L630.2 227.6 L631.7 225.4 L633.1 225.1 L634.2 226.9 L635.2 231.5 L636.3 230.2 L637.4 228.7 L638.8 228.6 L640.3 229.5 L641.7 229.4" fill="none" stroke="#000" stroke-width="1.2" stroke-linejoin="round"/>
<path d="M420.0 253.7 L421.1 251.5 L422.2 249.4 L423.6 249.9 L425.0 250.4 L426.5 251.1 L427.9 251.2 L429.3 252.2 L430.7 252.9 L432.2 254.5 L433.6 255.1 L435.0 255.9 L436.5 257.3 L437.9 258.0 L438.6 252.2 L440.0 243.7 L441.1 242.6 L442.2 241.5 L443.4 241.1 L444.6 240.6 L445.8 240.8 L447.0 239.7 L448.2 237.6 L449.4 236.5 L450.8 230.8 L451.9 232.4 L453.0 233.6 L454.4 231.1 L455.8 230.0 L457.0 229.7 L458.2 229.2 L459.4 228.6 L460.8 229.5 L462.3 230.3 L463.7 232.2 L464.9 232.8 L466.2 233.6 L467.4 234.1 L468.7 235.0 L469.8 235.4 L470.9 236.5 L472.3 234.1 L473.7 230.8 L475.1 228.6 L476.6 226.5 L477.9 221.5 L479.4 217.1 L480.8 213.0 L482.2 209.8 L483.6 205.8 L485.1 200.0 L486.5 194.3 L487.9 198.6 L488.9 204.7 L490.0 211.5 L490.9 223.6 L491.6 229.0 L492.4 233.6 L493.8 236.5 L495.2 233.6 L496.3 232.7 L497.4 232.2 L498.4 231.2 L499.5 229.3 L500.2 229.7 L501.0 230.8 L502.4 227.2 L503.7 223.0 L505.0 218.7 L505.8 221.0 L506.5 223.0 L507.2 222.0 L508.0 220.0 L509.4 221.3 L510.8 222.3 L511.9 219.3 L513.0 215.8 L514.0 212.4 L515.0 208.7 L516.2 207.2 L517.5 204.9 L518.7 203.0 L519.8 197.4 L520.9 191.5 L522.0 194.2 L523.0 197.2 L523.8 203.8 L524.5 208.7 L525.5 214.0 L526.6 220.0 L528.0 223.0 L529.5 221.2 L530.9 218.7 L532.3 215.4 L533.8 213.0 L535.2 209.6 L536.6 205.8 L538.0 205.0 L539.5 203.0 L541.0 200.3 L542.4 198.6 L543.8 199.1 L545.2 198.0 L546.6 195.7 L548.0 194.3 L549.0 192.5 L550.0 191.6 L551.0 190.0 L552.4 189.2 L553.8 189.3 L555.2 187.9 L556.7 185.7 L557.8 186.7 L558.8 187.2 L559.9 183.9 L561.0 183.0 L562.0 181.6 L562.9 181.5 L564.3 178.3 L565.8 175.8 L567.2 176.0 L568.6 175.8 L570.0 176.8 L571.5 178.7 L572.9 187.2 L573.6 188.3 L574.4 190.0 L575.8 197.2 L577.2 207.9 L578.6 207.5 L580.0 206.5 L581.2 204.4 L582.5 203.3 L583.7 201.5 L585.1 197.3 L586.5 194.3 L587.6 191.9 L588.7 188.7 L590.1 185.7 L591.5 181.5 L593.0 176.7 L594.4 173.0 L595.8 168.3 L597.3 165.8 L598.3 162.1 L599.4 160.0 L600.1 174.4 L600.9 157.2 L602.0 154.0 L603.0 150.0 L604.2 138.5 L605.3 133.0 L606.3 128.4 L607.4 122.7 L608.2 114.6 L609.0 107.7 L610.2 102.5 L611.4 98.2 L612.4 100.5 L613.4 103.0 L614.5 90.3 L615.3 83.1 L616.1 75.0 L617.3 66.4 L618.5 58.0 L619.7 52.4 L620.9 47.7 L621.6 51.0 L622.4 54.0 L623.2 48.1 L624.0 42.2 L624.8 39.2 L625.6 35.8 L626.4 35.3 L627.2 35.0 L628.4 30.3 L629.6 35.8 L630.5 34.3 L631.5 33.4 L632.2 35.4 L633.0 37.4 L634.3 43.0 L635.5 43.0 L636.7 45.3 L637.9 48.2 L639.0 50.9 L640.2 56.5 L641.4 61.1 L642.6 64.1 L643.8 66.7 L644.6 69.4 L645.4 72.9 L646.4 74.8 L647.5 78.7 L648.5 80.8 L649.7 84.5 L650.9 88.7 L651.7 91.0 L652.5 93.5 L653.7 99.1 L654.9 104.6 L656.0 106.7 L657.2 109.3 L658.0 110.1 L658.8 110.9 L659.6 115.6 L660.4 119.0 L661.6 119.4 L662.8 120.3 L664.0 125.5 L665.2 129.0 L666.0 134.7 L666.7 140.0 L667.5 132.2 L668.3 124.2 L669.1 139.3 L670.3 140.5 L671.5 140.9 L672.9 144.3 L674.2 152.1 L675.2 153.2 L676.2 154.0 L677.2 154.3 L678.5 157.4 L679.8 160.0 L681.1 160.3 L682.4 161.2 L683.5 161.7 L684.6 160.8 L685.9 165.0 L687.2 165.4 L688.5 166.0 L689.7 166.7 L690.8 168.6 L692.0 169.3 L692.9 171.7 L693.7 173.6 L695.0 173.8 L696.3 174.0 L697.5 175.3 L698.6 176.5" fill="none" stroke="#ff0a0a" stroke-width="1.55" stroke-linejoin="round"/>
<rect x="419.4" y="5.2" width="279.20000000000005" height="278.2" fill="none" stroke="#000" stroke-width="1.5"/><path d="M419.4 283.4h-5M698.6 283.4h-5M419.4 255.6h-5M698.6 255.6h-5M419.4 227.8h-5M698.6 227.8h-5M419.4 200.0h-5M698.6 200.0h-5M419.4 172.2h-5M698.6 172.2h-5M419.4 144.4h-5M698.6 144.4h-5M419.4 116.6h-5M698.6 116.6h-5M419.4 88.8h-5M698.6 88.8h-5M419.4 61.0h-5M698.6 61.0h-5M419.4 33.2h-5M698.6 33.2h-5M419.4 5.4h-5M698.6 5.4h-5M419.4 269.5h-3M698.6 269.5h-3M419.4 241.7h-3M698.6 241.7h-3M419.4 213.9h-3M698.6 213.9h-3M419.4 186.1h-3M698.6 186.1h-3M419.4 158.3h-3M698.6 158.3h-3M419.4 130.5h-3M698.6 130.5h-3M419.4 102.7h-3M698.6 102.7h-3M419.4 74.9h-3M698.6 74.9h-3M419.4 47.1h-3M698.6 47.1h-3M419.4 19.3h-3M698.6 19.3h-3M436.4 283.4v5M436.4 5.2v5M477.4 283.4v5M477.4 5.2v5M518.4 283.4v5M518.4 5.2v5M559.4 283.4v5M559.4 5.2v5M600.4 283.4v5M600.4 5.2v5M641.4 283.4v5M641.4 5.2v5M682.4 283.4v5M682.4 5.2v5M456.9 283.4v3M456.9 5.2v3M497.9 283.4v3M497.9 5.2v3M538.9 283.4v3M538.9 5.2v3M579.9 283.4v3M579.9 5.2v3M620.9 283.4v3M620.9 5.2v3M661.9 283.4v3M661.9 5.2v3" stroke="#000" stroke-width="1.3" fill="none"/>
<g class="t"><text x="409.4" y="289.9" text-anchor="end">0.0</text><text x="409.4" y="262.0" text-anchor="end">0.2</text><text x="409.4" y="234.1" text-anchor="end">0.4</text><text x="409.4" y="206.2" text-anchor="end">0.6</text><text x="409.4" y="178.3" text-anchor="end">0.8</text><text x="409.4" y="150.4" text-anchor="end">1.0</text><text x="409.4" y="122.6" text-anchor="end">1.2</text><text x="409.4" y="94.7" text-anchor="end">1.4</text><text x="409.4" y="66.8" text-anchor="end">1.6</text><text x="409.4" y="38.9" text-anchor="end">1.8</text><text x="409.4" y="11.0" text-anchor="end">2.0</text><text x="431.7" y="303.2" text-anchor="middle" style="font-size:14.3px">5.0k</text><text x="472.7" y="303.2" text-anchor="middle" style="font-size:14.3px">10.0k</text><text x="513.7" y="303.2" text-anchor="middle" style="font-size:14.3px">15.0k</text><text x="554.7" y="303.2" text-anchor="middle" style="font-size:14.3px">20.0k</text><text x="595.7" y="303.2" text-anchor="middle" style="font-size:14.3px">25.0k</text><text x="636.7" y="303.2" text-anchor="middle" style="font-size:14.3px">30.0k</text><text x="677.7" y="303.2" text-anchor="middle" style="font-size:14.3px">35.0k</text><text transform="translate(384,157) rotate(-90)" text-anchor="middle">normalized displacement</text><text x="439.3" y="331">(b)</text><text x="512.3" y="331" style="font-size:14.1px">frequency (Hz)</text><line x1="428" y1="22.6" x2="465" y2="22.6" stroke="#ff0a0a" stroke-width="1.5"/><line x1="428" y1="43" x2="465" y2="43" stroke="#333" stroke-width="1.15"/><text x="468.5" y="28.2" style="font-size:14.3px">Single mirror actuated</text><text x="468.5" y="48.7" style="font-size:14.3px">All mirrors actuated</text></g>
</g>
</svg>
</body></html>
